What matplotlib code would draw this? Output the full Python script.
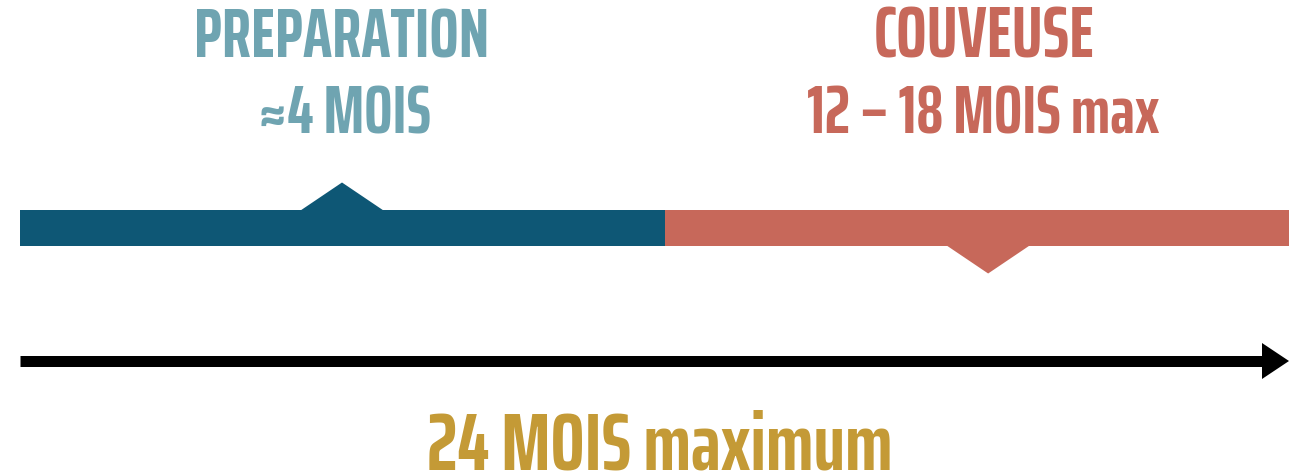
import matplotlib
matplotlib.use("Agg")
import matplotlib.pyplot as plt
from matplotlib.patches import Polygon

# ---- data ----
total_months = 24
phase_names = ["PREPARATION", "COUVEUSE"]
phase_labels = ["≈4 MOIS", "12 – 18 MOIS max"]
phase_start = [0.0, 12.2]
phase_end = [12.2, 24.0]
phase_marker = [6.09, 18.31]
total_label = "24 MOIS maximum"

# ---- style ----
bar_colors = ["#0e5775", "#c7685a"]
text_colors = ["#6fa4b1", "#c7685a"]
gold = "#c49a36"
FAM = ["Saira ExtraCondensed", "DejaVu Sans"]
name_sizes = [50, 52]
label_sizes = [48, 48]

W, H, DPI = 1289, 475, 100
fig = plt.figure(figsize=(W / DPI, H / DPI), dpi=DPI)
ax = fig.add_axes([0, 0, 1, 1])
px_per_month = (W - 20) / total_months
ax.set_xlim(-20 / px_per_month, total_months)
ax.set_ylim(H, 0)
ax.axis("off")

bar_y, bar_h = 228, 36
tri_half, tri_h = 41.5 / px_per_month, 28

for i in range(len(phase_names)):
    ax.barh(bar_y, phase_end[i] - phase_start[i], left=phase_start[i], height=bar_h,
            color=bar_colors[i], linewidth=0)
    m = phase_marker[i]
    if i == 0:
        base = bar_y - bar_h / 2 + 0.5
        tip = base - tri_h
    else:
        base = bar_y + bar_h / 2 - 0.5
        tip = base + tri_h
    ax.add_patch(Polygon([(m - tri_half, base), (m, tip), (m + tri_half, base)],
                         closed=True, color=bar_colors[i], linewidth=0))
    ax.text(m - (0.08 if i else 0), 58, phase_names[i], ha="center", va="baseline", color=text_colors[i],
            family=FAM, fontweight="bold", fontsize=name_sizes[i])
    ax.text(m - (0.1 if i else -0.05), 133, phase_labels[i], ha="center", va="baseline", color=text_colors[i],
            family=FAM, fontweight="bold", fontsize=label_sizes[i])

# timeline arrow
arrow_y = 361
head_len = 27 / px_per_month
ax.hlines(arrow_y, 0, total_months - head_len + 0.05, color="black", linewidth=11 * 72 / DPI,
          capstyle="butt")
ax.add_patch(Polygon([(total_months - head_len, arrow_y - 18), (total_months, arrow_y),
                      (total_months - head_len, arrow_y + 18)], closed=True, color="black", linewidth=0))

ax.text(total_months / 2 + 0.1, 469, total_label, ha="center", va="baseline", color=gold,
        family=FAM, fontweight="bold", fontsize=58)

fig.savefig("out.png", dpi=DPI)
